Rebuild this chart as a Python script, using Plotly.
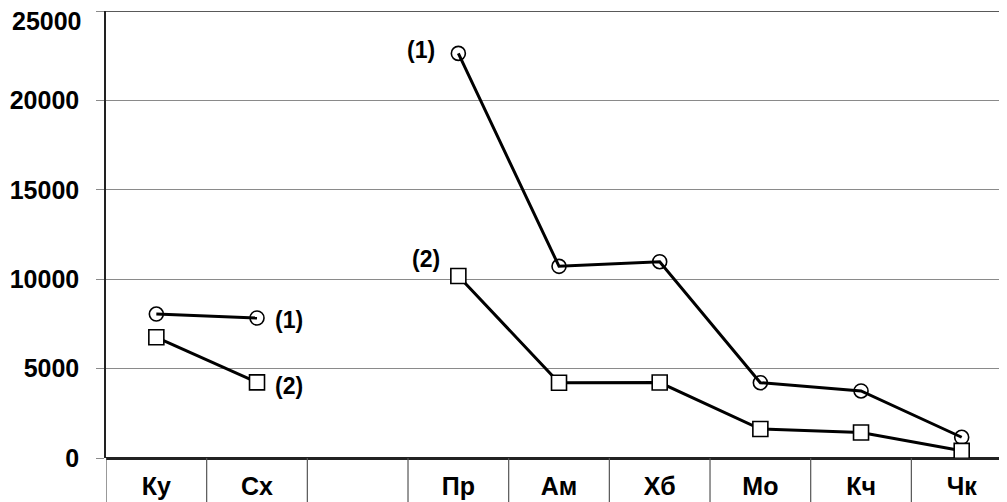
import plotly.graph_objects as go

categories = ["Ку", "Сх", " ", "Пр", "Ам", "Хб", "Мо", "Кч", "Чк"]
series1 = [8050, 7830, None, 22630, 10720, 10980, 4210, 3750, 1160]
series2 = [6750, 4230, None, 10180, 4210, 4220, 1620, 1430, 400]
y_ticks = [0, 5000, 10000, 15000, 20000, 25000]

FONT = "Liberation Sans"

fig = go.Figure()
fig.add_trace(go.Scatter(
    x=list(range(len(categories))), y=series1, mode="lines+markers",
    line=dict(color="black", width=3),
    marker=dict(symbol="circle-open", size=14, color="black", line=dict(width=1.6)),
    connectgaps=False, showlegend=False))
fig.add_trace(go.Scatter(
    x=list(range(len(categories))), y=series2, mode="lines+markers",
    line=dict(color="black", width=3),
    marker=dict(symbol="square", size=15, color="white", line=dict(color="black", width=1.6)),
    connectgaps=False, showlegend=False))

# category separators below the axis
n = len(categories)
for i in range(n + 1):
    fig.add_shape(type="line", xref="x", yref="paper",
                  x0=i - 0.5, x1=i - 0.5, y0=0, y1=-0.12,
                  line=dict(color="#555", width=1.2))

# top border
fig.add_shape(type="line", xref="paper", yref="y", x0=0, x1=1,
              y0=y_ticks[-1], y1=y_ticks[-1], line=dict(color="#222", width=1.5))

tick_font = dict(family=FONT, size=25, color="black", weight="bold")
# top tick label is drawn slightly inside the figure, below its gridline
fig.add_annotation(xref="paper", x=0, y=y_ticks[-1], text=str(y_ticks[-1]),
                   showarrow=False, xanchor="right", yanchor="middle",
                   xshift=-22, yshift=-10, font=tick_font)

ann_font = dict(family=FONT, size=23, color="black", weight="bold")
fig.add_annotation(x=1, y=series1[1], text="(1)", showarrow=False, xshift=32, yshift=-2, font=ann_font)
fig.add_annotation(x=1, y=series2[1], text="(2)", showarrow=False, xshift=32, yshift=-4, font=ann_font)
fig.add_annotation(x=3, y=series1[3], text="(1)", showarrow=False, xshift=-37, yshift=3, font=ann_font)
fig.add_annotation(x=3, y=series2[3], text="(2)", showarrow=False, xshift=-32, yshift=17, font=ann_font)

fig.update_xaxes(
    range=[-0.5, n - 0.5 - 0.05], tickmode="array",
    tickvals=list(range(n)), ticktext=categories,
    showgrid=False, zeroline=False, showline=False, ticks="",
    tickfont=dict(family=FONT, size=25, color="black", weight="bold"),
    ticklabelstandoff=11, automargin=False, ticklabeloverflow="allow")
fig.update_yaxes(
    range=[0, 25000], tickvals=y_ticks,
    ticktext=[str(v) for v in y_ticks[:-1]] + [""],
    showgrid=True, gridcolor="#8a8a8a", gridwidth=1,
    zeroline=True, zerolinecolor="#222", zerolinewidth=2.5,
    showline=True, linecolor="#222", linewidth=1.5,
    ticks="outside", ticklen=8, tickcolor="#8a8a8a",
    tickfont=tick_font,
    ticklabelstandoff=12, automargin=False, ticklabeloverflow="allow")

# the page body adds an 8px offset, so the figure is shifted accordingly
fig.update_layout(
    width=999, height=494,
    margin=dict(l=98, r=0, t=3, b=44),
    paper_bgcolor="white", plot_bgcolor="white")

fig.write_html("out.html")
